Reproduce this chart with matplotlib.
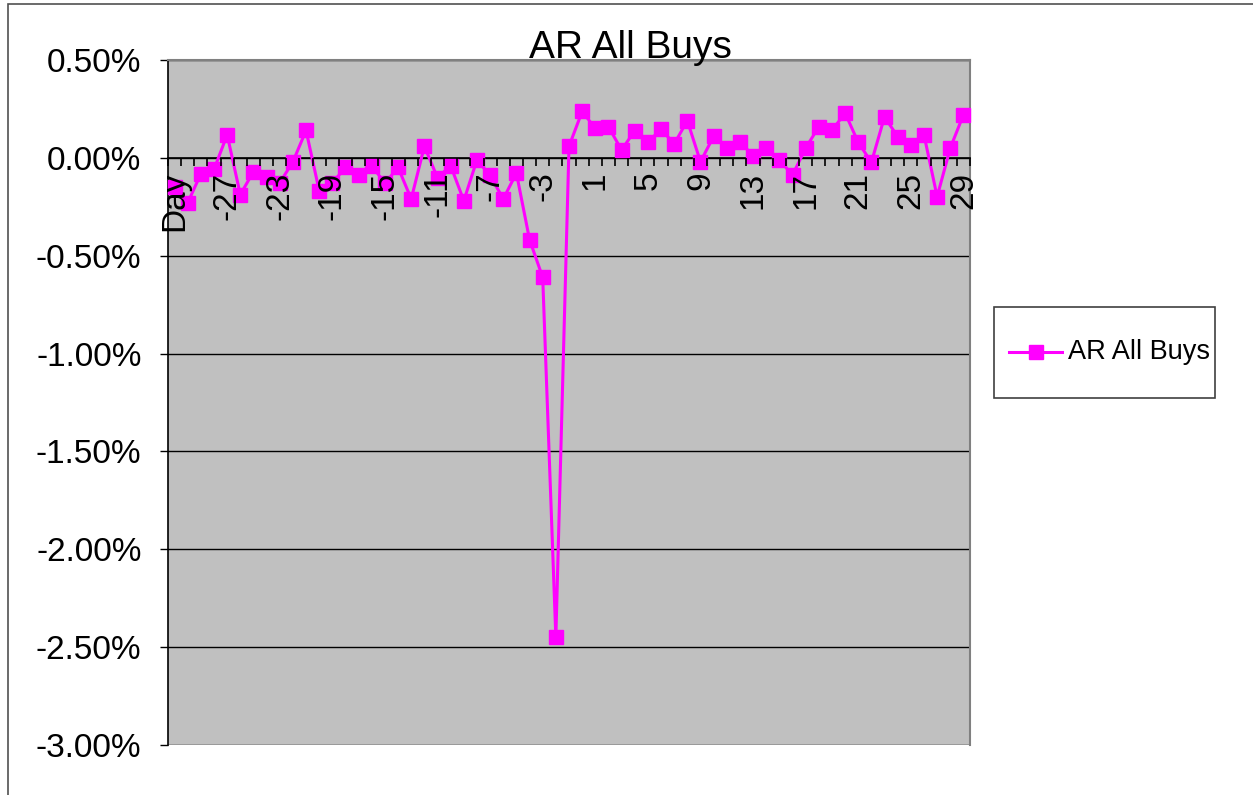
"""Abnormal returns around the event day for all buys."""

import matplotlib

matplotlib.use("Agg")
import matplotlib.pyplot as plt
import numpy as np
from matplotlib.lines import Line2D
from matplotlib.patches import Rectangle
from matplotlib.ticker import FixedLocator, FuncFormatter

plt.rcParams["font.family"] = ["Liberation Sans", "DejaVu Sans"]

SERIES_NAME = "AR All Buys"

# Category axis: a leading "Day" header cell followed by event days -30..29.
DAYS = ["Day"] + [str(d) for d in range(-30, 30)]

# Abnormal return per category, in percent.
AR_ALL_BUYS = [
    -0.147,
    -0.230, -0.081, -0.059, 0.118, -0.188, -0.070, -0.098, -0.128, -0.020, 0.140,
    -0.168, -0.128, -0.049, -0.090, -0.040, -0.130, -0.049, -0.210, 0.059, -0.102,
    -0.040, -0.219, -0.010, -0.090, -0.210, -0.078, -0.418, -0.611, -2.450, 0.059,
    0.237, 0.151, 0.159, 0.040, 0.139, 0.079, 0.147, 0.071, 0.190, -0.020,
    0.110, 0.050, 0.083, 0.011, 0.050, -0.010, -0.088, 0.050, 0.159, 0.140,
    0.229, 0.079, -0.023, 0.210, 0.108, 0.067, 0.118, -0.198, 0.050, 0.220,
]

Y_TICKS = [0.5, 0.0, -0.5, -1.0, -1.5, -2.0, -2.5, -3.0]
LABEL_STEP = 4

W, H = 1253, 795
MAGENTA = "#FF00FF"
PLOT_BG = "#C0C0C0"


def px(x, y):
    """Convert pixel position (top-left origin) to figure fraction."""
    return x / W, 1 - y / H


def main() -> None:
    fig = plt.figure(figsize=(W / 100, H / 100), dpi=100)
    fig.patch.set_facecolor("white")

    # chart area border (only top/left visible)
    fig.patches.append(
        Rectangle(px(8, 900), (W + 50) / W, 896 / H, transform=fig.transFigure,
                  fill=False, edgecolor="#505050", linewidth=1.2)
    )

    left, top = px(168, 60)
    right, bottom = px(970, 745)
    ax = fig.add_axes([left, bottom, right - left, top - bottom])
    ax.set_facecolor(PLOT_BG)

    x = np.arange(len(DAYS))
    ax.plot(x, AR_ALL_BUYS, color=MAGENTA, linewidth=2.2, marker="s",
            markersize=10.5, markerfacecolor=MAGENTA, markeredgecolor=MAGENTA,
            label=SERIES_NAME, clip_on=False, zorder=3)

    ax.set_xlim(-0.5, len(DAYS) - 0.5)
    ax.set_ylim(-3.0, 0.5)

    # y axis with percent labels and horizontal gridlines
    ax.yaxis.set_major_locator(FixedLocator(Y_TICKS))
    ax.yaxis.set_major_formatter(FuncFormatter(lambda v, _: f"{v:.2f}%"))
    ax.tick_params(axis="y", which="major", direction="out", length=6,
                   width=1, pad=13, labelsize=24, color="black")
    ax.yaxis.grid(True, color="black", linewidth=1)

    # category axis crosses at zero, ticks between categories
    ax.spines["bottom"].set_position(("data", 0))
    ax.spines["bottom"].set_color("black")
    ax.spines["bottom"].set_linewidth(1.2)
    ax.spines["left"].set_color("black")
    ax.spines["left"].set_linewidth(1.2)
    for side in ("top", "right"):
        ax.spines[side].set_color("#808080")
        ax.spines[side].set_linewidth(1.5)

    label_pos = x[::LABEL_STEP]
    ax.set_xticks(label_pos)
    ax.set_xticklabels([DAYS[i] for i in label_pos], rotation=90)
    ax.set_xticks(np.arange(-0.5, len(DAYS), 1), minor=True)
    ax.tick_params(axis="x", which="major", length=0, pad=10, labelsize=24)
    ax.tick_params(axis="x", which="minor", direction="out", length=6,
                   width=1.2, color="black")
    # category labels sit on top of the series
    ax.xaxis.set_zorder(4)

    # title
    tx, ty = px(630, 48)
    fig.text(tx, ty, SERIES_NAME, ha="center", va="center", fontsize=28)

    # legend box
    lx0, ly0 = px(994, 398)
    lx1, ly1 = px(1215, 307)
    fig.patches.append(
        Rectangle((lx0, ly0), lx1 - lx0, ly1 - ly0, transform=fig.transFigure,
                  facecolor="white", edgecolor="#404040", linewidth=1.2)
    )
    hx0, hy = px(1009, 352)
    hx1, _ = px(1062, 352)
    fig.lines.append(
        Line2D([hx0, hx1], [hy, hy], transform=fig.transFigure, color=MAGENTA,
               linewidth=2.2)
    )
    fig.lines.append(
        Line2D([(hx0 + hx1) / 2], [hy], transform=fig.transFigure, color=MAGENTA,
               marker="s", markersize=10.5, linestyle="none")
    )
    textx, _ = px(1068, 352)
    fig.text(textx, hy, SERIES_NAME, ha="left", va="center", fontsize=19.5)

    fig.savefig("out.png", dpi=100)
    plt.close(fig)


if __name__ == "__main__":
    main()
